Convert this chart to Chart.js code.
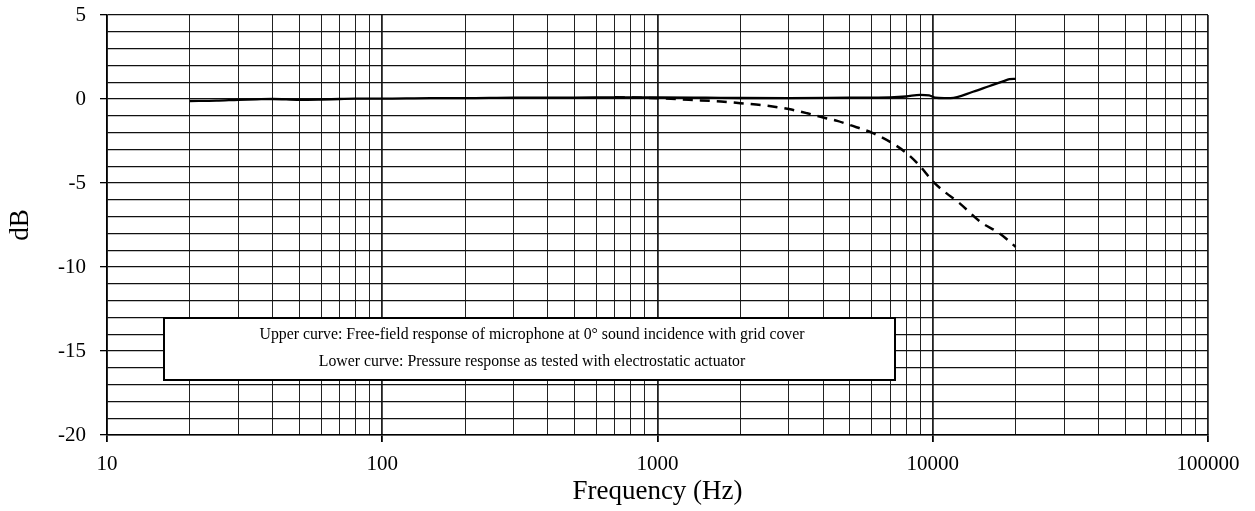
<!DOCTYPE html>
<html>
<head>
<meta charset="utf-8">
<script src="https://cdn.jsdelivr.net/npm/chart.js@4/dist/chart.umd.min.js"></script>
<style>
    html, body { margin: 0; padding: 0; background: #fff; }
</style>
</head>
<body>
<canvas id="resposta" width="1255" height="511"></canvas>
<script>
// curva superior: campo livre, 0 graus, com grade
const freq_superior = [20, 25, 30, 35, 40, 50, 60, 70, 80, 100, 150, 200, 300, 500, 700, 1000, 1500, 2000, 3000, 5000, 7000, 8000, 9000, 9700, 10200, 11000, 11600, 14000, 16000, 18000, 19000, 20000];
const db_superior = [-0.12, -0.1, -0.05, -0.02, 0, -0.05, -0.03, 0, 0.02, 0.02, 0.05, 0.05, 0.08, 0.08, 0.1, 0.1, 0.08, 0.06, 0.05, 0.08, 0.1, 0.15, 0.25, 0.22, 0.08, 0.05, 0.05, 0.43, 0.76, 1.05, 1.18, 1.2];

// curva inferior: pressao, atuador eletrostatico
const freq_inferior = [700, 1000, 1300, 1700, 2000, 2500, 3000, 3500, 4000, 4500, 5000, 6000, 7000, 8000, 9000, 10000, 11000, 12500, 15000, 17500, 20000];
const db_inferior = [0.1, 0.05, -0.05, -0.15, -0.25, -0.4, -0.6, -0.85, -1.1, -1.3, -1.55, -2.0, -2.55, -3.2, -4.0, -4.9, -5.5, -6.2, -7.35, -8.0, -8.8];

// marcas do eixo x (grade logaritmica)
const grade_x = [10, 20, 30, 40, 50, 60, 70, 80, 90,
    100, 200, 300, 400, 500, 600, 700, 800, 900,
    1000, 2000, 3000, 4000, 5000, 6000, 7000, 8000, 9000,
    10000, 20000, 30000, 40000, 50000, 60000, 70000, 80000, 90000, 100000];
const rotulos_x = [10, 100, 1000, 10000, 100000];

const textos_legenda = [
    'Upper curve: Free-field response of microphone at 0\u00b0 sound incidence with grid cover',
    'Lower curve: Pressure response as tested with electrostatic actuator'
];

const fonte = 'Liberation Serif, Times New Roman, serif';

const pontos = (xs, ys) => xs.map((f, i) => ({x: f, y: ys[i]}));

const caixa_legenda = {
    id: 'caixa_legenda',
    afterDatasetsDraw(chart) {
        const ctx = chart.ctx;
        ctx.save();
        ctx.fillStyle = '#fff';
        ctx.fillRect(164, 318, 731, 62);
        ctx.strokeStyle = '#000';
        ctx.lineWidth = 2;
        ctx.strokeRect(164, 318, 731, 62);
        ctx.fillStyle = '#000';
        ctx.font = '15.8px ' + fonte;
        ctx.textAlign = 'center';
        ctx.textBaseline = 'middle';
        ctx.fillText(textos_legenda[0], 532, 335);
        ctx.fillText(textos_legenda[1], 532, 362);
        ctx.restore();
    }
};

new Chart(document.getElementById('resposta'), {
    type: 'line',
    data: {
        datasets: [
            {
                label: 'Upper curve',
                data: pontos(freq_superior, db_superior),
                borderColor: '#000',
                borderWidth: 2.3,
                pointRadius: 0,
                cubicInterpolationMode: 'monotone',
            },
            {
                label: 'Lower curve',
                data: pontos(freq_inferior, db_inferior),
                borderColor: '#000',
                borderWidth: 2.5,
                borderDash: [10, 7],
                pointRadius: 0,
                cubicInterpolationMode: 'monotone',
            }
        ]
    },
    options: {
        responsive: false,
        animation: false,
        layout: {
            padding: {left: 0, right: 47, top: 15, bottom: 0}
        },
        plugins: {
            legend: {display: false},
            tooltip: {enabled: false},
        },
        scales: {
            x: {
                type: 'logarithmic',
                min: 10,
                max: 100000,
                afterBuildTicks: (scale) => {
                    scale.ticks = grade_x.map(v => ({value: v}));
                },
                afterFit: (scale) => {
                    scale.height = 76;
                    scale.paddingLeft = 0;
                    scale.paddingRight = 0;
                },
                ticks: {
                    autoSkip: false,
                    maxRotation: 0,
                    padding: 10,
                    color: '#000',
                    font: {family: fonte, size: 21},
                    callback: (valor) => rotulos_x.includes(valor) ? String(valor) : '',
                },
                grid: {
                    color: '#222',
                    lineWidth: (c) => (c.tick && rotulos_x.includes(c.tick.value)) ? 1.8 : 1,
                    tickLength: 7,
                    tickColor: (c) => (c.tick && rotulos_x.includes(c.tick.value)) ? '#000' : 'rgba(0,0,0,0)',
                },
                border: {color: '#000', width: 1.5},
                title: {
                    display: true,
                    text: 'Frequency (Hz)',
                    color: '#000',
                    font: {family: fonte, size: 27},
                    padding: {top: 0, bottom: 3},
                }
            },
            y: {
                min: -20,
                max: 5,
                afterFit: (scale) => {
                    scale.width = 107;
                    scale.paddingTop = 0;
                    scale.paddingBottom = 0;
                },
                ticks: {
                    stepSize: 1,
                    autoSkip: false,
                    padding: 14,
                    color: '#000',
                    font: {family: fonte, size: 21},
                    callback: (valor) => valor % 5 === 0 ? String(valor) : '',
                },
                grid: {
                    color: '#111',
                    lineWidth: 1.3,
                    tickLength: 7,
                    tickColor: (c) => (c.tick && c.tick.value % 5 === 0) ? '#000' : 'rgba(0,0,0,0)',
                },
                border: {color: '#000', width: 1.5},
                title: {
                    display: true,
                    text: 'dB',
                    color: '#000',
                    font: {family: fonte, size: 27},
                    padding: {top: 5, bottom: 0},
                }
            }
        }
    },
    plugins: [caixa_legenda]
});
</script>
</body>
</html>
